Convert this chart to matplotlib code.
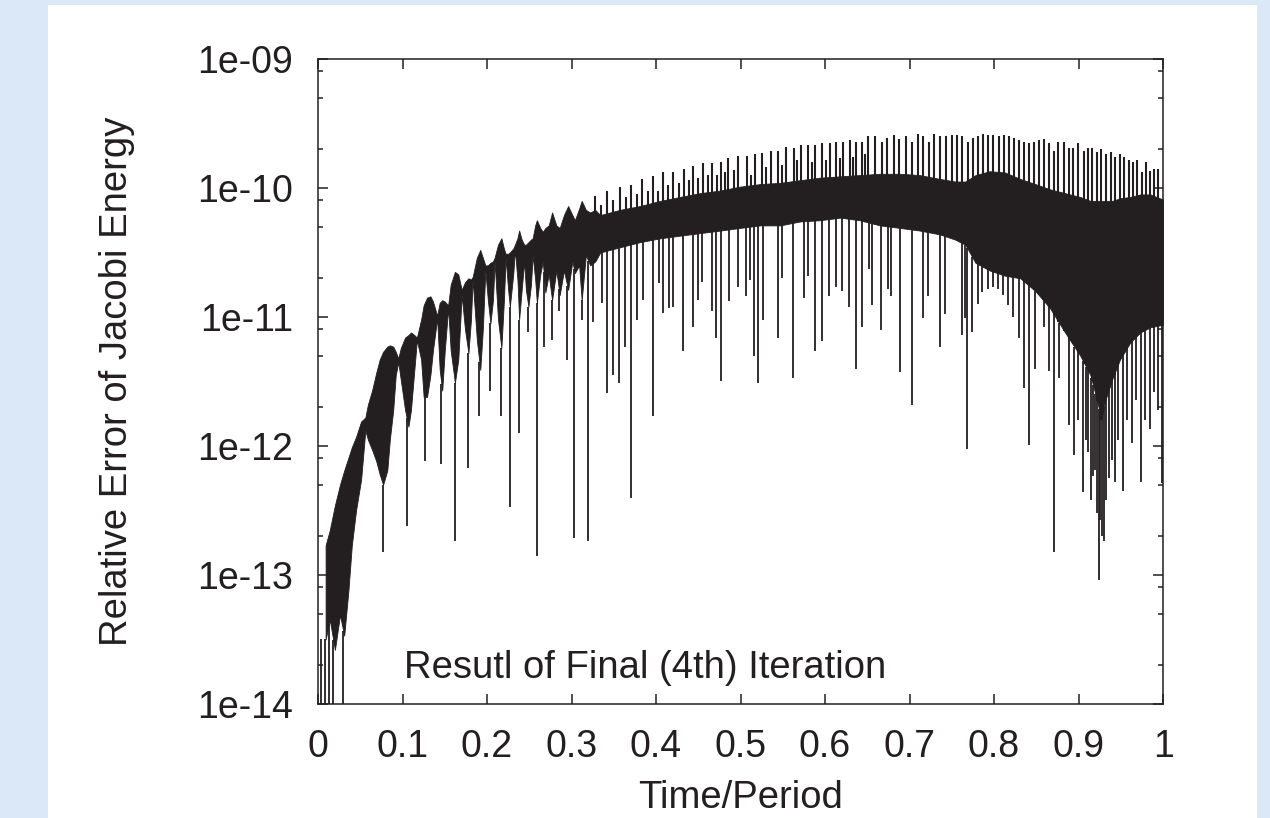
import numpy as np
import matplotlib.pyplot as plt
from matplotlib.patches import Rectangle
from matplotlib.ticker import FixedLocator, FuncFormatter, LogLocator, NullFormatter, NullLocator

plt.rcParams['font.family'] = ['Liberation Sans', 'DejaVu Sans']

# dense part of the curve: time/period and log10 of its upper / lower edge
band_t = [0.009, 0.014, 0.020, 0.026, 0.031, 0.036, 0.040, 0.045, 0.051, 0.056,
          0.059, 0.064, 0.069, 0.073, 0.077, 0.082, 0.085, 0.089, 0.092, 0.095,
          0.098, 0.103, 0.107, 0.110, 0.114, 0.117, 0.122, 0.125, 0.129, 0.133,
          0.136, 0.141, 0.144, 0.147, 0.150, 0.154, 0.157, 0.162, 0.166, 0.170,
          0.174, 0.178, 0.181, 0.183, 0.188, 0.192, 0.195, 0.198, 0.201, 0.204,
          0.207, 0.209, 0.213, 0.217, 0.220, 0.222, 0.225, 0.227, 0.231, 0.233,
          0.236, 0.238, 0.241, 0.244, 0.246, 0.249, 0.252, 0.254, 0.257, 0.259,
          0.263, 0.266, 0.269, 0.273, 0.277, 0.282, 0.286, 0.291, 0.296, 0.301,
          0.304, 0.309, 0.312, 0.317, 0.322, 0.328, 0.334, 0.357, 0.381, 0.405,
          0.428, 0.452, 0.476, 0.499, 0.523, 0.547, 0.570, 0.594, 0.618, 0.641,
          0.665, 0.689, 0.712, 0.736, 0.754, 0.766, 0.778, 0.795, 0.813, 0.831,
          0.849, 0.866, 0.884, 0.902, 0.914, 0.922, 0.927, 0.931, 0.940, 0.949,
          0.961, 0.973, 0.985, 1.000]
band_hi = [-12.77, -12.65, -12.46, -12.30, -12.19, -12.09, -12.01, -11.93, -11.81, -11.78,
           -11.68, -11.57, -11.43, -11.33, -11.27, -11.23, -11.22, -11.23, -11.27, -11.32,
           -11.24, -11.16, -11.14, -11.12, -11.14, -11.16, -11.02, -10.91, -10.85, -10.84,
           -10.88, -10.99, -10.89, -10.87, -10.88, -10.91, -10.75, -10.65, -10.67, -10.79,
           -10.73, -10.70, -10.71, -10.69, -10.54, -10.48, -10.54, -10.60, -10.60, -10.58,
           -10.57, -10.54, -10.44, -10.39, -10.47, -10.51, -10.51, -10.50, -10.47, -10.44,
           -10.39, -10.33, -10.40, -10.44, -10.44, -10.42, -10.40, -10.39, -10.29, -10.25,
           -10.31, -10.34, -10.31, -10.29, -10.19, -10.29, -10.31, -10.21, -10.14, -10.21,
           -10.25, -10.16, -10.10, -10.17, -10.19, -10.17, -10.21, -10.17, -10.14, -10.10,
           -10.07, -10.04, -10.02, -9.99, -9.97, -9.96, -9.94, -9.92, -9.91, -9.90,
           -9.89, -9.89, -9.90, -9.93, -9.95, -9.95, -9.90, -9.87, -9.88, -9.93,
           -9.97, -10.01, -10.04, -10.07, -10.10, -10.10, -10.10, -10.10, -10.10, -10.08,
           -10.07, -10.05, -10.05, -10.09]
band_lo = [-13.50, -13.35, -13.58, -13.31, -13.47, -13.12, -12.77, -12.50, -12.26, -11.88,
           -11.95, -12.03, -12.12, -12.22, -12.30, -12.19, -11.95, -11.72, -11.45, -11.35,
           -11.49, -11.72, -11.85, -11.72, -11.41, -11.18, -11.33, -11.62, -11.62, -11.45,
           -11.26, -11.01, -11.41, -11.57, -11.26, -10.93, -11.26, -11.51, -11.33, -10.83,
           -11.10, -11.28, -11.02, -10.71, -11.18, -11.41, -11.10, -10.64, -10.87, -11.05,
           -10.87, -10.57, -11.02, -11.24, -10.87, -10.54, -10.79, -10.92, -10.67, -10.48,
           -10.71, -11.02, -10.79, -10.57, -10.79, -10.92, -10.75, -10.52, -10.71, -10.89,
           -10.67, -10.57, -10.81, -10.67, -10.87, -10.64, -10.83, -10.64, -10.79, -10.57,
           -10.66, -10.60, -10.87, -10.52, -10.60, -10.57, -10.50, -10.46, -10.42, -10.39,
           -10.37, -10.35, -10.33, -10.31, -10.29, -10.29, -10.26, -10.25, -10.23, -10.25,
           -10.29, -10.31, -10.33, -10.36, -10.40, -10.44, -10.58, -10.64, -10.68, -10.70,
           -10.80, -10.93, -11.12, -11.30, -11.45, -11.65, -11.80, -11.66, -11.48, -11.33,
           -11.20, -11.12, -11.08, -11.06]

# single spikes rising above the dense part (log10 of their tops)
peak_t = [0.328, 0.335, 0.342, 0.349, 0.357, 0.364, 0.370, 0.378, 0.383, 0.391,
          0.396, 0.402, 0.408, 0.414, 0.420, 0.427, 0.433, 0.439, 0.444, 0.450,
          0.456, 0.462, 0.466, 0.472, 0.477, 0.482, 0.485, 0.492, 0.497, 0.508,
          0.512, 0.517, 0.525, 0.530, 0.536, 0.544, 0.549, 0.554, 0.563, 0.567,
          0.572, 0.580, 0.585, 0.588, 0.596, 0.601, 0.606, 0.613, 0.618, 0.621,
          0.630, 0.633, 0.637, 0.644, 0.647, 0.651, 0.659, 0.667, 0.673, 0.682,
          0.688, 0.696, 0.703, 0.710, 0.716, 0.723, 0.729, 0.736, 0.743, 0.750,
          0.756, 0.762, 0.769, 0.775, 0.781, 0.787, 0.793, 0.799, 0.806, 0.812,
          0.818, 0.824, 0.830, 0.836, 0.841, 0.847, 0.853, 0.859, 0.865, 0.871,
          0.876, 0.883, 0.889, 0.893, 0.899, 0.907, 0.911, 0.916, 0.922, 0.927,
          0.933, 0.938, 0.943, 0.949, 0.954, 0.960, 0.964, 0.969, 0.975, 0.980,
          0.985, 0.989, 0.994]
peak_log = [-10.06, -10.13, -10.02, -10.09, -9.99, -10.07, -9.98, -10.05, -9.93, -10.02,
            -9.91, -10.02, -9.88, -9.98, -9.88, -9.96, -9.85, -9.94, -9.83, -9.92,
            -9.81, -9.90, -9.81, -9.90, -9.80, -9.88, -9.77, -9.86, -9.75, -9.75,
            -9.90, -9.74, -9.73, -9.84, -9.71, -9.71, -9.82, -9.68, -9.69, -9.78,
            -9.67, -9.67, -9.80, -9.67, -9.65, -9.78, -9.65, -9.64, -9.77, -9.64,
            -9.63, -9.76, -9.64, -9.64, -9.74, -9.60, -9.60, -9.64, -9.61, -9.59,
            -9.62, -9.60, -9.64, -9.58, -9.60, -9.64, -9.58, -9.60, -9.60, -9.59,
            -9.59, -9.60, -9.64, -9.61, -9.60, -9.58, -9.59, -9.59, -9.60, -9.59,
            -9.60, -9.61, -9.63, -9.64, -9.65, -9.64, -9.63, -9.62, -9.65, -9.71,
            -9.64, -9.64, -9.69, -9.69, -9.65, -9.71, -9.69, -9.69, -9.72, -9.70,
            -9.74, -9.72, -9.76, -9.74, -9.76, -9.78, -9.80, -9.78, -9.88, -9.80,
            -9.87, -9.85, -9.85]

# spikes dropping below the dense part (log10 of their bottoms)
dip_t = [0.004, 0.008, 0.013, 0.018, 0.030, 0.077, 0.105, 0.127, 0.146, 0.162,
         0.178, 0.191, 0.204, 0.217, 0.227, 0.238, 0.249, 0.259, 0.267, 0.277,
         0.285, 0.295, 0.303, 0.312, 0.320, 0.325, 0.336, 0.342, 0.349, 0.356,
         0.363, 0.370, 0.378, 0.385, 0.396, 0.404, 0.408, 0.415, 0.420, 0.432,
         0.444, 0.450, 0.454, 0.466, 0.471, 0.477, 0.486, 0.497, 0.507, 0.511,
         0.516, 0.521, 0.527, 0.544, 0.549, 0.562, 0.575, 0.580, 0.588, 0.596,
         0.605, 0.613, 0.620, 0.628, 0.637, 0.644, 0.652, 0.656, 0.666, 0.675,
         0.678, 0.689, 0.703, 0.716, 0.722, 0.736, 0.742, 0.762, 0.766, 0.768,
         0.774, 0.781, 0.786, 0.793, 0.799, 0.805, 0.811, 0.817, 0.822, 0.830,
         0.836, 0.841, 0.849, 0.859, 0.865, 0.871, 0.877, 0.889, 0.895, 0.899,
         0.905, 0.909, 0.911, 0.915, 0.917, 0.920, 0.922, 0.924, 0.925, 0.928,
         0.930, 0.933, 0.936, 0.940, 0.943, 0.947, 0.953, 0.957, 0.963, 0.968,
         0.974, 0.979, 0.985, 0.989, 0.994, 0.999]
dip_log = [-14.5, -14.5, -14.5, -14.5, -14.5, -12.82, -12.62, -12.12, -12.14, -12.74,
           -12.17, -11.77, -11.57, -11.77, -12.47, -11.90, -11.12, -12.85, -11.23, -11.18,
           -10.95, -11.33, -12.71, -11.02, -12.74, -11.04, -10.89, -11.59, -11.45, -11.51,
           -11.23, -12.40, -11.02, -10.87, -11.77, -10.74, -10.97, -10.93, -10.92, -11.26,
           -11.08, -10.87, -10.73, -10.95, -11.16, -11.50, -10.88, -10.77, -10.84, -10.71,
           -11.30, -11.51, -11.02, -11.16, -10.70, -11.47, -10.85, -10.68, -11.26, -11.19,
           -10.84, -10.77, -10.80, -10.92, -11.40, -11.08, -10.63, -10.91, -11.10, -10.78,
           -10.84, -11.43, -11.68, -11.01, -10.84, -11.23, -10.98, -11.14, -11.01, -12.02,
           -11.12, -10.90, -10.81, -10.78, -10.77, -10.78, -10.83, -10.91, -11.00, -11.16,
           -11.55, -11.99, -11.40, -11.08, -11.42, -12.82, -11.47, -11.84, -12.07, -11.80,
           -12.36, -11.95, -12.05, -12.42, -12.23, -12.19, -12.52, -13.04, -12.57, -12.70,
           -12.74, -12.42, -12.25, -12.11, -12.28, -11.95, -12.35, -11.80, -11.98, -11.64,
           -12.28, -11.80, -11.87, -11.58, -11.72, -12.29]

x_ticks = [0, 0.1, 0.2, 0.3, 0.4, 0.5, 0.6, 0.7, 0.8, 0.9, 1.0]

ink = '#231f20'
band_t = np.array(band_t)
band_hi = np.array(band_hi)
band_lo = np.array(band_lo)
peak_t = np.array(peak_t)
peak_log = np.array(peak_log)
dip_t = np.array(dip_t)
dip_log = np.array(dip_log)

fig = plt.figure(figsize=(12.7, 8.18), dpi=100, facecolor='#dae8f8')
# white page behind the plot
fig.add_artist(Rectangle((48 / 1270, 0), 1209 / 1270, 813 / 818,
                         transform=fig.transFigure, facecolor='white',
                         edgecolor='none', zorder=-10))
ax = fig.add_axes([0.2504, 0.1394, 0.6654, 0.7885])
ax.set_yscale('log')

ax.fill_between(band_t, 10 ** band_hi, 10 ** band_lo, facecolor=ink,
                edgecolor=ink, linewidth=0.6)
# spikes start where they leave the dense part
peak_base = np.interp(peak_t, band_t, band_lo)
ax.vlines(peak_t, 10 ** peak_base, 10 ** peak_log, color=ink, linewidth=1.5)
dip_base = np.interp(dip_t, band_t, band_lo)
ax.vlines(dip_t, 10 ** dip_log, 10 ** dip_base, color=ink, linewidth=1.3)

ax.set_xlim(0, 1)
ax.set_ylim(1e-14, 1e-9)
ax.xaxis.set_major_locator(FixedLocator(x_ticks))
ax.xaxis.set_minor_locator(NullLocator())
ax.xaxis.set_major_formatter(FuncFormatter(lambda v, p: f"{v:g}"))
ax.yaxis.set_major_locator(LogLocator(base=10, numticks=12))
ax.yaxis.set_minor_locator(LogLocator(base=10, subs=(2, 5, 8), numticks=12))
ax.yaxis.set_minor_formatter(NullFormatter())
ax.yaxis.set_major_formatter(FuncFormatter(lambda v, p: f"{v:.0e}"))
ax.xaxis.offsetText.set_visible(False)
ax.yaxis.offsetText.set_visible(False)

ax.tick_params(which='both', direction='in', top=True, right=True,
               color=ink, width=1.1, labelsize=27, labelcolor=ink, pad=18)
ax.tick_params(which='major', length=7)
ax.tick_params(which='minor', length=3.6)
for s in ax.spines.values():
    s.set_linewidth(1.1)
    s.set_color(ink)

ax.set_xlabel('Time/Period', fontsize=27.5, color=ink)
ax.xaxis.set_label_coords(0.5, -0.118)
ax.set_ylabel('Relative Error of Jacobi Energy', fontsize=27.5, color=ink)
ax.yaxis.set_label_coords(-0.2166, 0.5)
ax.text(0.1018, 0.0403, 'Resutl of Final (4th) Iteration', transform=ax.transAxes,
        fontsize=27.5, va='baseline', color=ink)

fig.savefig('out.png', dpi=100)
